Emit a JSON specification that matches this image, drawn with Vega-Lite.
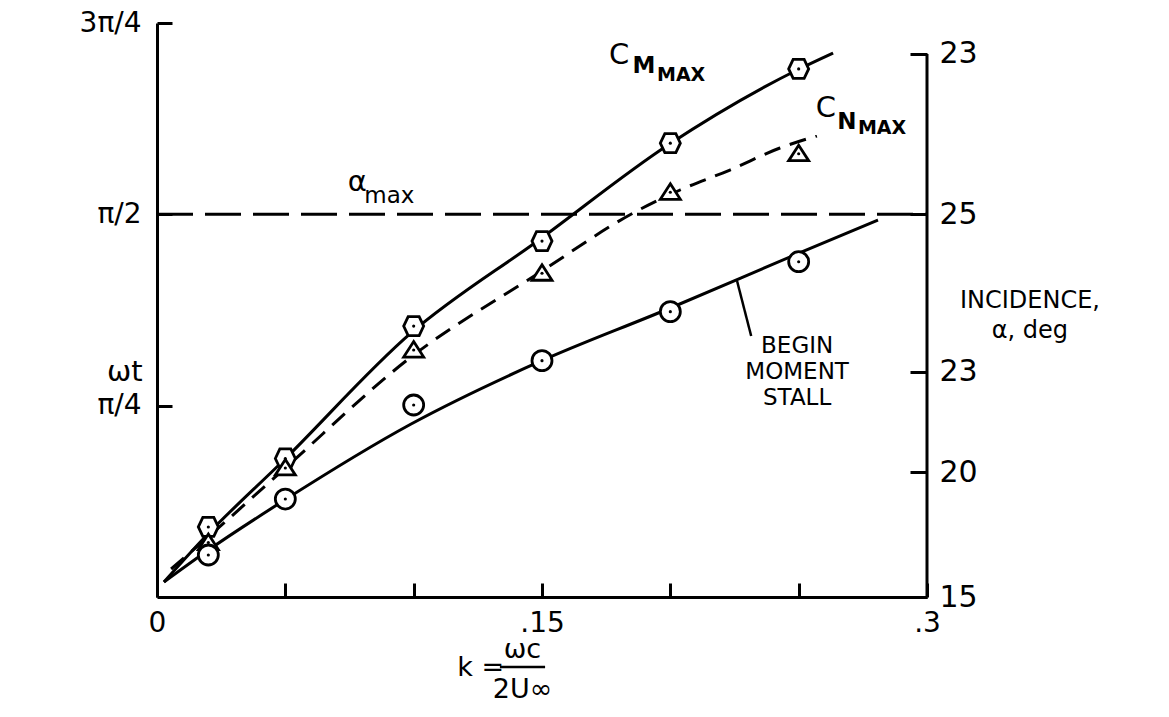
{
  "$schema": "https://vega.github.io/schema/vega-lite/v6.json",
  "width": 770,
  "height": 574,
  "autosize": {"type": "none"},
  "padding": {"left": 157, "top": 23, "right": 242, "bottom": 120},
  "background": "white",
  "config": {"view": {"stroke": null}, "font": "DejaVu Sans"},
  "datasets": {
    "alphaMax": [{"k": 0, "k2": 0.3, "wt_pi": 0.5}],
    "rightAxis": [{"k": 0.3, "lo": 0, "hi": 0.7095}],
    "points": [
      {"series": "CM", "k": 0.02, "wt_pi": 0.0915},
      {"series": "CM", "k": 0.05, "wt_pi": 0.181},
      {"series": "CM", "k": 0.1, "wt_pi": 0.354},
      {"series": "CM", "k": 0.15, "wt_pi": 0.465},
      {"series": "CM", "k": 0.2, "wt_pi": 0.593},
      {"series": "CM", "k": 0.25, "wt_pi": 0.69},
      {"series": "CN", "k": 0.02, "wt_pi": 0.0712},
      {"series": "CN", "k": 0.05, "wt_pi": 0.1686},
      {"series": "CN", "k": 0.1, "wt_pi": 0.3227},
      {"series": "CN", "k": 0.15, "wt_pi": 0.423},
      {"series": "CN", "k": 0.2, "wt_pi": 0.5288},
      {"series": "CN", "k": 0.25, "wt_pi": 0.5792},
      {"series": "stall", "k": 0.02, "wt_pi": 0.0549},
      {"series": "stall", "k": 0.05, "wt_pi": 0.128},
      {"series": "stall", "k": 0.1, "wt_pi": 0.2509},
      {"series": "stall", "k": 0.15, "wt_pi": 0.3088},
      {"series": "stall", "k": 0.2, "wt_pi": 0.3728},
      {"series": "stall", "k": 0.25, "wt_pi": 0.4381}
    ],
    "curves": [
      {"curve": "CM", "k": 0.0027, "wt_pi": 0.0196},
      {"curve": "CM", "k": 0.0187, "wt_pi": 0.0784},
      {"curve": "CM", "k": 0.0491, "wt_pi": 0.1777},
      {"curve": "CM", "k": 0.099, "wt_pi": 0.345},
      {"curve": "CM", "k": 0.1488, "wt_pi": 0.4665},
      {"curve": "CM", "k": 0.1991, "wt_pi": 0.5906},
      {"curve": "CM", "k": 0.2494, "wt_pi": 0.6886},
      {"curve": "CM", "k": 0.2634, "wt_pi": 0.7108},
      {"curve": "CN", "k": 0.0055, "wt_pi": 0.0366},
      {"curve": "CN", "k": 0.0199, "wt_pi": 0.0784},
      {"curve": "CN", "k": 0.0491, "wt_pi": 0.1659},
      {"curve": "CN", "k": 0.099, "wt_pi": 0.3136},
      {"curve": "CN", "k": 0.1488, "wt_pi": 0.4233},
      {"curve": "CN", "k": 0.1862, "wt_pi": 0.503},
      {"curve": "CN", "k": 0.2038, "wt_pi": 0.5318},
      {"curve": "CN", "k": 0.2232, "wt_pi": 0.5579},
      {"curve": "CN", "k": 0.2427, "wt_pi": 0.5867},
      {"curve": "CN", "k": 0.2571, "wt_pi": 0.6024},
      {"curve": "stall", "k": 0.0027, "wt_pi": 0.0196},
      {"curve": "stall", "k": 0.0195, "wt_pi": 0.0601},
      {"curve": "stall", "k": 0.0491, "wt_pi": 0.1254},
      {"curve": "stall", "k": 0.099, "wt_pi": 0.226},
      {"curve": "stall", "k": 0.1488, "wt_pi": 0.3071},
      {"curve": "stall", "k": 0.1991, "wt_pi": 0.3763},
      {"curve": "stall", "k": 0.2494, "wt_pi": 0.4482},
      {"curve": "stall", "k": 0.2809, "wt_pi": 0.4926}
    ],
    "leader": [{"k": 0.2260, "wt_pi": 0.4129, "k2": 0.2315, "wt2": 0.3410}],
    "fraction": [{"k": 0.1336, "k2": 0.1512, "wt_pi": -0.0915}],
    "labels": [
      {"kind": "main", "text": "C", "k": 0.18, "wt_pi": 0.7082},
      {"kind": "sub", "text": "M", "k": 0.1897, "wt_pi": 0.6938},
      {"kind": "subsub", "text": "MAX", "k": 0.2042, "wt_pi": 0.6827},
      {"kind": "main", "text": "C", "k": 0.2606, "wt_pi": 0.6389},
      {"kind": "sub", "text": "N", "k": 0.2688, "wt_pi": 0.62},
      {"kind": "subsub", "text": "MAX", "k": 0.2825, "wt_pi": 0.6122},
      {"kind": "main", "text": "α", "k": 0.0780, "wt_pi": 0.5422},
      {"kind": "lower", "text": "max", "k": 0.0905, "wt_pi": 0.524},
      {"kind": "main", "text": "ωt", "k": -0.0125, "wt_pi": 0.2940},
      {"kind": "note", "text": "BEGIN", "k": 0.2494, "wt_pi": 0.3279},
      {"kind": "note", "text": "MOMENT", "k": 0.2494, "wt_pi": 0.2940},
      {"kind": "note", "text": "STALL", "k": 0.2494, "wt_pi": 0.2600},
      {"kind": "right", "text": "INCIDENCE,", "k": 0.3401, "wt_pi": 0.3867},
      {"kind": "right", "text": "α, deg", "k": 0.3401, "wt_pi": 0.3476},
      {"kind": "xtitle", "text": "k =", "k": 0.1261, "wt_pi": -0.0931},
      {"kind": "xtitle", "text": "ωc", "k": 0.1424, "wt_pi": -0.0693},
      {"kind": "xtitle", "text": "2U∞", "k": 0.1424, "wt_pi": -0.1215}
    ]
  },
  "resolve": {"axis": {"y": "independent"}},
  "encoding": {
    "x": {
      "field": "k", "type": "quantitative", "title": null,
      "scale": {"domain": [0, 0.3], "nice": false, "zero": false},
      "axis": {
        "orient": "bottom", "values": [0, 0.05, 0.1, 0.15, 0.2, 0.25, 0.3],
        "labelExpr": "abs(datum.value) < 0.001 ? '0\u00a0\u00a0\u00a0' : abs(datum.value - 0.15) < 0.001 ? '\u00a0.15' : abs(datum.value - 0.3) < 0.001 ? '.3\u00a0' : ''",
        "grid": false, "domainWidth": 3, "domainColor": "black",
        "ticks": true, "tickSize": -14, "tickWidth": 3, "tickColor": "black",
        "labelFontSize": 28, "labelColor": "black", "labelFont": "DejaVu Sans",
        "labelPadding": 26, "labelFlush": false, "labelAlign": "center",
        "title": null
      }
    }
  },
  "layer": [
    {
      "data": {"name": "alphaMax"},
      "mark": {"type": "rule", "strokeDash": [36, 12], "strokeWidth": 3, "color": "black"},
      "encoding": {
        "x2": {"field": "k2"},
        "y": {
          "field": "wt_pi", "type": "quantitative", "title": null,
          "scale": {"domain": [0, 0.75], "nice": false, "zero": false},
          "axis": {
            "orient": "left", "values": [0.25, 0.5, 0.75],
            "labelExpr": "datum.value < 0.3 ? 'π/4' : datum.value < 0.6 ? 'π/2' : '3π/4'",
            "grid": false, "domainWidth": 3, "domainColor": "black",
            "ticks": true, "tickSize": -15, "tickWidth": 3, "tickColor": "black",
            "labelFontSize": 28, "labelColor": "black", "labelFont": "DejaVu Sans",
            "labelPadding": 31, "title": null
          }
        }
      }
    },
    {
      "data": {"name": "rightAxis"},
      "mark": {"type": "rule", "strokeWidth": 3, "color": "black"},
      "encoding": {
        "y": {
          "field": "lo", "type": "quantitative", "title": null,
          "scale": {"domain": [0, 0.75], "nice": false, "zero": false},
          "axis": {
            "orient": "right", "values": [0, 0.1633, 0.294, 0.5, 0.7095],
            "labelExpr": "datum.value > 0.7 ? '23' : datum.value > 0.45 ? '25' : datum.value > 0.25 ? '23' : datum.value > 0.1 ? '20' : '15'",
            "grid": false, "domain": false,
            "ticks": true, "tickSize": -17, "tickWidth": 3, "tickColor": "black",
            "labelFontSize": 30, "labelColor": "black", "labelFont": "DejaVu Sans",
            "labelPadding": 29, "labelAlign": "left", "title": null
          }
        },
        "y2": {"field": "hi"}
      }
    },
    {
      "data": {"name": "curves"},
      "transform": [{"filter": "datum.curve != 'CN'"}],
      "mark": {"type": "line", "interpolate": "monotone", "strokeWidth": 3, "color": "black"},
      "encoding": {
        "y": {"field": "wt_pi", "type": "quantitative", "scale": {"domain": [0, 0.75], "nice": false, "zero": false}, "axis": null},
        "detail": {"field": "curve"}
      }
    },
    {
      "data": {"name": "curves"},
      "transform": [{"filter": "datum.curve == 'CN'"}],
      "mark": {"type": "line", "interpolate": "monotone", "strokeWidth": 3, "color": "black", "strokeDash": [17, 10]},
      "encoding": {
        "y": {"field": "wt_pi", "type": "quantitative", "scale": {"domain": [0, 0.75], "nice": false, "zero": false}, "axis": null}
      }
    },
    {
      "data": {"name": "leader"},
      "mark": {"type": "rule", "strokeWidth": 2.5, "color": "black"},
      "encoding": {
        "x2": {"field": "k2"},
        "y": {"field": "wt_pi", "type": "quantitative", "scale": {"domain": [0, 0.75], "nice": false, "zero": false}, "axis": null},
        "y2": {"field": "wt2"}
      }
    },
    {
      "data": {"name": "fraction"},
      "mark": {"type": "rule", "strokeWidth": 2.5, "color": "black"},
      "encoding": {
        "x2": {"field": "k2"},
        "y": {"field": "wt_pi", "type": "quantitative", "scale": {"domain": [0, 0.75], "nice": false, "zero": false}, "axis": null}
      }
    },
    {
      "data": {"name": "points"},
      "mark": {"type": "point", "filled": false, "fill": "white", "fillOpacity": 1, "stroke": "black", "strokeWidth": 2.8, "opacity": 1},
      "encoding": {
        "y": {"field": "wt_pi", "type": "quantitative", "scale": {"domain": [0, 0.75], "nice": false, "zero": false}, "axis": null},
        "shape": {
          "field": "series", "type": "nominal", "legend": null,
          "scale": {"domain": ["CM", "CN", "stall"], "range": ["M -1 0 L -0.55 -0.95 L 0.55 -0.95 L 1 0 L 0.55 0.95 L -0.55 0.95 Z", "M 0 -0.85 L 1 0.7 L -1 0.7 Z", "circle"]}
        },
        "size": {
          "field": "series", "type": "nominal", "legend": null,
          "scale": {"domain": ["CM", "CN", "stall"], "range": [400, 400, 350]}
        }
      }
    },
    {
      "data": {"name": "points"},
      "mark": {"type": "point", "filled": true, "shape": "circle", "size": 10, "color": "black", "opacity": 1},
      "encoding": {
        "y": {"field": "wt_pi", "type": "quantitative", "scale": {"domain": [0, 0.75], "nice": false, "zero": false}, "axis": null}
      }
    },
    {
      "data": {"name": "labels"},
      "transform": [{"filter": "datum.kind == 'main'"}],
      "mark": {"type": "text", "fontSize": 29, "font": "DejaVu Sans", "color": "black", "align": "center", "baseline": "middle"},
      "encoding": {
        "y": {"field": "wt_pi", "type": "quantitative", "scale": {"domain": [0, 0.75], "nice": false, "zero": false}, "axis": null},
        "text": {"field": "text"}
      }
    },
    {
      "data": {"name": "labels"},
      "transform": [{"filter": "datum.kind == 'sub'"}],
      "mark": {"type": "text", "fontSize": 23, "fontWeight": "bold", "font": "DejaVu Sans", "color": "black", "align": "center", "baseline": "middle"},
      "encoding": {
        "y": {"field": "wt_pi", "type": "quantitative", "scale": {"domain": [0, 0.75], "nice": false, "zero": false}, "axis": null},
        "text": {"field": "text"}
      }
    },
    {
      "data": {"name": "labels"},
      "transform": [{"filter": "datum.kind == 'subsub'"}],
      "mark": {"type": "text", "fontSize": 19, "fontWeight": "bold", "font": "DejaVu Sans", "color": "black", "align": "center", "baseline": "middle"},
      "encoding": {
        "y": {"field": "wt_pi", "type": "quantitative", "scale": {"domain": [0, 0.75], "nice": false, "zero": false}, "axis": null},
        "text": {"field": "text"}
      }
    },
    {
      "data": {"name": "labels"},
      "transform": [{"filter": "datum.kind == 'lower'"}],
      "mark": {"type": "text", "fontSize": 23, "font": "DejaVu Sans", "color": "black", "align": "center", "baseline": "middle"},
      "encoding": {
        "y": {"field": "wt_pi", "type": "quantitative", "scale": {"domain": [0, 0.75], "nice": false, "zero": false}, "axis": null},
        "text": {"field": "text"}
      }
    },
    {
      "data": {"name": "labels"},
      "transform": [{"filter": "datum.kind == 'note'"}],
      "mark": {"type": "text", "fontSize": 23, "font": "DejaVu Sans", "color": "black", "align": "center", "baseline": "middle"},
      "encoding": {
        "y": {"field": "wt_pi", "type": "quantitative", "scale": {"domain": [0, 0.75], "nice": false, "zero": false}, "axis": null},
        "text": {"field": "text"}
      }
    },
    {
      "data": {"name": "labels"},
      "transform": [{"filter": "datum.kind == 'right'"}],
      "mark": {"type": "text", "fontSize": 24, "font": "DejaVu Sans", "color": "black", "align": "center", "baseline": "middle"},
      "encoding": {
        "y": {"field": "wt_pi", "type": "quantitative", "scale": {"domain": [0, 0.75], "nice": false, "zero": false}, "axis": null},
        "text": {"field": "text"}
      }
    },
    {
      "data": {"name": "labels"},
      "transform": [{"filter": "datum.kind == 'xtitle'"}],
      "mark": {"type": "text", "fontSize": 27, "font": "DejaVu Sans", "color": "black", "align": "center", "baseline": "middle"},
      "encoding": {
        "y": {"field": "wt_pi", "type": "quantitative", "scale": {"domain": [0, 0.75], "nice": false, "zero": false}, "axis": null},
        "text": {"field": "text"}
      }
    }
  ]
}
